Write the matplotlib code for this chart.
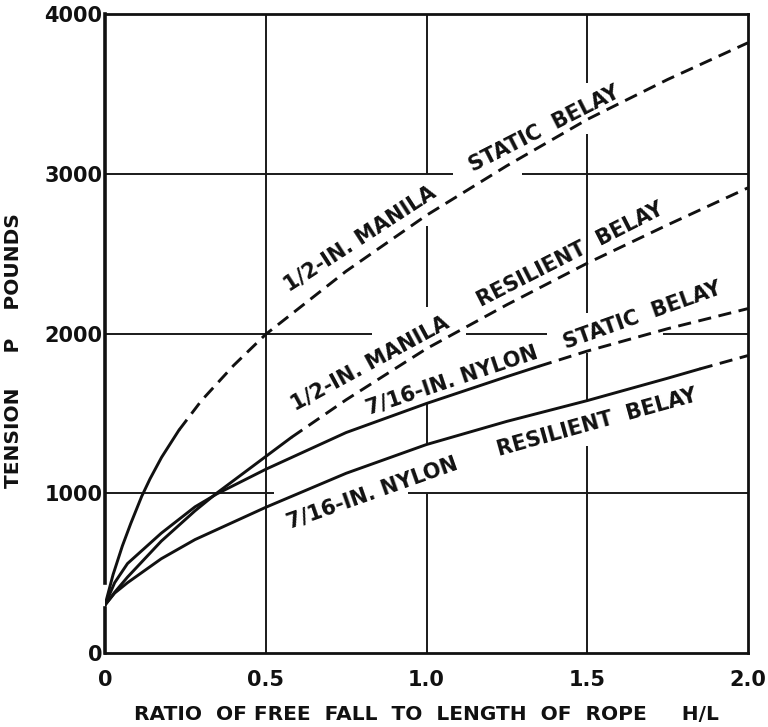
import numpy as np
import matplotlib
matplotlib.use("Agg")
import matplotlib.pyplot as plt

# tension curves (x = H/L, y = pounds)
# 1/2-in. manila, static belay
ms_x = [0, 0.025, 0.054, 0.08, 0.114, 0.14, 0.176, 0.23, 0.3, 0.4, 0.5, 0.75, 1.0, 1.25, 1.5, 1.75, 2.0]
ms_y = [300, 490, 670, 810, 980, 1090, 1225, 1395, 1580, 1800, 1995, 2390, 2740, 3050, 3340, 3590, 3820]
ms_solid_to = 0.23

# 1/2-in. manila, resilient belay
mr_x = [0, 0.03, 0.07, 0.175, 0.28, 0.347, 0.5, 0.58, 0.75, 1.0, 1.25, 1.5, 1.75, 2.0]
mr_y = [300, 380, 475, 700, 890, 1000, 1230, 1350, 1585, 1905, 2180, 2440, 2680, 2912]
mr_solid_to = 0.58

# 7/16-in. nylon, static belay
ns_x = [0, 0.03, 0.07, 0.175, 0.28, 0.347, 0.5, 0.75, 1.0, 1.25, 1.35, 1.5, 1.75, 2.0]
ns_y = [300, 440, 560, 750, 915, 995, 1150, 1380, 1562, 1730, 1795, 1890, 2030, 2156]
ns_solid_to = 1.35

# 7/16-in. nylon, resilient belay
nr_x = [0, 0.03, 0.07, 0.175, 0.28, 0.5, 0.75, 1.0, 1.25, 1.5, 1.75, 1.85, 2.0]
nr_y = [300, 375, 440, 590, 710, 912, 1125, 1305, 1450, 1580, 1720, 1778, 1862]
nr_solid_to = 1.85

x_ticks = [0, 0.5, 1.0, 1.5, 2.0]
x_ticklabels = ["0", "0.5", "1.0", "1.5", "2.0"]
y_ticks = [0, 1000, 2000, 3000, 4000]
y_ticklabels = ["0", "1000", "2000", "3000", "4000"]

# curve labels: text, x, y, angle
labels = [
    ("1/2-IN. MANILA", 0.792, 2594, 33),
    ("STATIC  BELAY", 1.366, 3281, 27),
    ("1/2-IN. MANILA", 0.825, 1814, 28.5),
    ("RESILIENT  BELAY", 1.446, 2496, 27),
    ("7/16-IN. NYLON", 1.080, 1709, 18.5),
    ("STATIC  BELAY", 1.672, 2112, 19.5),
    ("7/16-IN. NYLON", 0.830, 1000, 19.5),
    ("RESILIENT  BELAY", 1.529, 1444, 15.5),
]

# grid lines are broken where the lettering sits
hgrid = {1000: [(0, 0.525), (0.941, 2.0)],
         2000: [(0, 0.83), (1.124, 1.376), (1.735, 2.0)],
         3000: [(0, 1.081), (1.298, 2.0)]}
vgrid = {0.5: [(0, 4000)],
         1.0: [(0, 1000), (1312, 1562), (2165, 2675), (3000, 4000)],
         1.5: [(0, 1294), (1569, 1875), (2130, 3250), (3569, 4000)]}

ink = "#111111"

fig = plt.figure(figsize=(7.68, 7.27), dpi=100)
ax = fig.add_axes([105/768, 1-653/727, 643/768, 639/727])

for yv, segs in hgrid.items():
    for a, b in segs:
        ax.plot([a, b], [yv, yv], color="#1a1a1a", lw=1.4, solid_capstyle="butt")
for xv, segs in vgrid.items():
    for a, b in segs:
        ax.plot([xv, xv], [a, b], color="#1a1a1a", lw=1.4, solid_capstyle="butt")

def curve(xs, ys, x_end):
    k = xs.index(x_end)
    ax.plot(xs[:k+1], ys[:k+1], color=ink, lw=2.1, solid_capstyle="round",
            solid_joinstyle="round")
    ax.plot(xs[k:], ys[k:], color=ink, lw=2.1, dashes=(4.5, 2.6))

curve(ms_x, ms_y, ms_solid_to)
curve(mr_x, mr_y, mr_solid_to)
curve(ns_x, ns_y, ns_solid_to)
curve(nr_x, nr_y, nr_solid_to)

for txt, lx, ly, ang in labels:
    ax.text(lx, ly, txt, rotation=ang, rotation_mode="anchor",
            ha="center", va="center", fontsize=15, fontweight="bold",
            color=ink)

ax.set_xlim(0, 2.0)
ax.set_ylim(0, 4000)
for s in ["top", "right", "bottom"]:
    ax.spines[s].set_linewidth(2.0)
    ax.spines[s].set_color(ink)
ax.spines["left"].set_visible(False)
# left axis line has a small break where the curves meet
ax.plot([0, 0], [0, 280], color=ink, lw=2.6, clip_on=False)
ax.plot([0, 0], [440, 4000], color=ink, lw=2.6, clip_on=False)

ax.set_xticks(x_ticks)
ax.set_xticklabels(x_ticklabels, fontsize=15, fontweight="bold")
ax.set_yticks(y_ticks)
ax.set_yticklabels(y_ticklabels, fontsize=15, fontweight="bold")
ax.tick_params(axis="both", length=0, colors=ink)
ax.tick_params(axis="x", pad=12)
ax.tick_params(axis="y", pad=2)

ax.set_xlabel("RATIO  OF FREE  FALL  TO  LENGTH  OF  ROPE     H/L",
              fontsize=14.5, fontweight="bold", color=ink)
ax.xaxis.set_label_coords(0.5, -0.081)
ax.set_ylabel("TENSION     P    POUNDS", fontsize=14.5, fontweight="bold", color=ink)
ax.yaxis.set_label_coords(-0.1275, 0.473)

fig.savefig("out.png", dpi=100)
